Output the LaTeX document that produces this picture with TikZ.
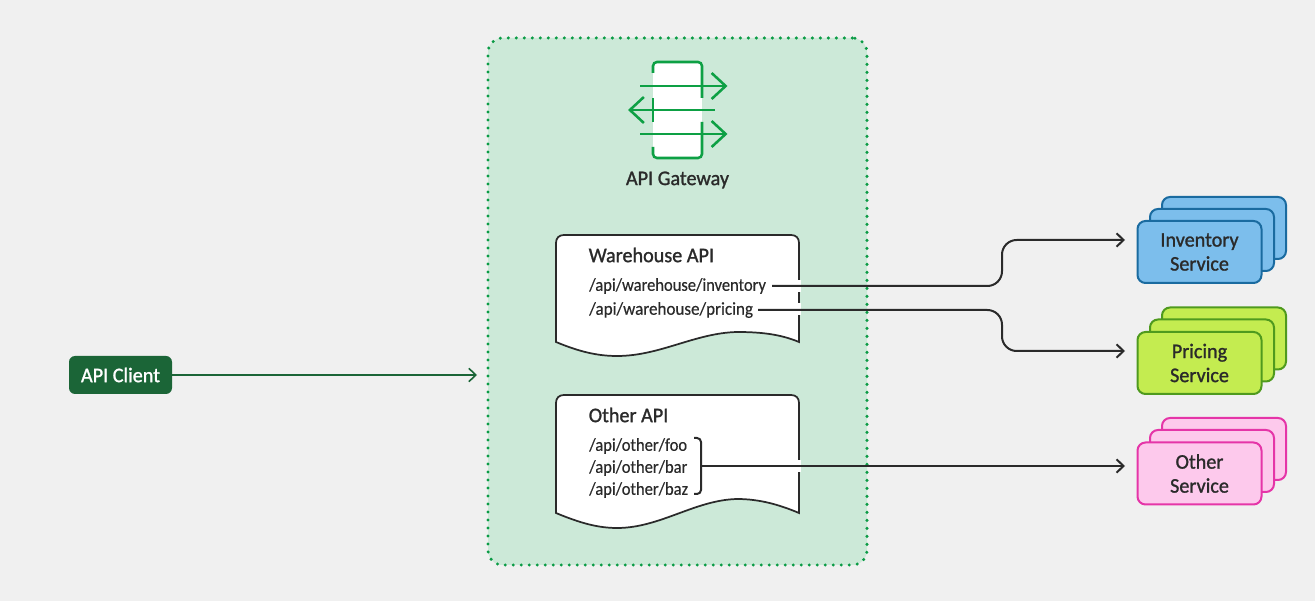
\documentclass[tikz,border=0pt]{standalone}
\usepackage{fontspec}
\setmainfont{Carlito}
\usetikzlibrary{arrows.meta,calc}
\definecolor{bgc}{HTML}{F0F0F0}
\definecolor{gwfill}{HTML}{CCE9D8}
\definecolor{gwline}{HTML}{0A9B45}
\definecolor{icong}{HTML}{0DA044}
\definecolor{clientg}{HTML}{1B6537}
\definecolor{ink}{HTML}{2A2A2A}
\definecolor{bluef}{HTML}{7CBEEC}
\definecolor{bluel}{HTML}{1A6BA0}
\definecolor{limef}{HTML}{C4EC50}
\definecolor{limel}{HTML}{4F9A1E}
\definecolor{pinkf}{HTML}{FDC9EC}
\definecolor{pinkl}{HTML}{E535A8}
\newcommand{\headfont}{\fontsize{15.6pt}{18pt}\selectfont\addfontfeatures{FakeBold=1.2,FakeStretch=0.97}}
\newcommand{\pathfont}{\fontsize{13.6pt}{16pt}\selectfont\addfontfeatures{FakeBold=0.35,FakeStretch=0.91}}
\newcommand{\pricefont}{\fontsize{13.6pt}{16pt}\selectfont\addfontfeatures{FakeBold=0.35,FakeStretch=0.94}}
\tikzset{
  x=.75pt,y=-.75pt,
  svc/.style={draw,line width=1.5pt,rounded corners=6pt,minimum width=93pt,minimum height=46.5pt,inner sep=0pt,text=ink,align=center,font=\headfont},
  flow/.style={draw=ink,line width=1.5pt,rounded corners=11pt,-{Straight Barb[length=5.25pt,width=10pt,line width=1.5pt]}},
  stub/.style={draw=ink,line width=1.5pt},
  doc/.style={draw=ink,line width=1.3pt,fill=white},
  pathtxt/.style={anchor=west,inner sep=0pt,text=ink,font=\pathfont},
  headtxt/.style={anchor=west,inner sep=0pt,text=ink,font=\headfont},
  iconline/.style={draw=icong,line width=1.9pt},
  iconarrow/.style={iconline,-{Straight Barb[length=10.5pt,width=19.5pt,line width=1.9pt]}},
}
\begin{document}
\begin{tikzpicture}
\useasboundingbox (0,0) rectangle (1315,609);
\fill[white] (0,0) rectangle (1315,609);
\fill[bgc] (0,0) rectangle (1315,601);
% gateway
\node (gw) [draw=gwline,fill=gwfill,line width=2.5pt,rounded corners=11pt,dash pattern=on 0pt off 6pt,line cap=round,minimum width=284.25pt,minimum height=395.25pt,inner sep=0pt] at (677.5,301.5) {};
% icon
\fill[white] (653,62) rectangle (702,158);
\draw[iconline,rounded corners=3pt] (653,73) -- (653,62) -- (702,62) -- (702,98);
\draw[iconline,rounded corners=3pt] (702,122) -- (702,158) -- (653,158) -- (653,147);
\draw[iconline] (653,98) -- (653,122);
\coordinate (i1a) at (640,86); \coordinate (i1b) at (727.5,86);
\coordinate (i2a) at (715,110); \coordinate (i2b) at (628,110);
\coordinate (i3a) at (640,134); \coordinate (i3b) at (727.5,134);
\draw[iconarrow] (i1a) -- (i1b);
\draw[iconarrow] (i2a) -- (i2b);
\draw[iconarrow] (i3a) -- (i3b);
\node (gwt) [text=ink,font=\headfont,inner sep=0pt] at (677.5,180) {API Gateway};
% documents
\draw[doc] (556,342) -- (556,243) .. controls (556,238) and (559,235) .. (564,235) -- (791,235) .. controls (796,235) and (799,238) .. (799,243) -- (799,342)
  .. controls (780,334) and (760,332) .. (737,332) .. controls (695,333) and (660,356) .. (617,356) .. controls (598,356) and (580,352) .. (556,342) -- cycle;
\draw[white,line width=2.5pt] (799,280) -- (799,292) (799,303) -- (799,315);
\draw[doc] (556,513) -- (556,403) .. controls (556,398) and (559,395) .. (564,395) -- (791,395) .. controls (796,395) and (799,398) .. (799,403) -- (799,513)
  .. controls (780,505) and (760,499) .. (737,499) .. controls (695,500) and (660,528) .. (617,528) .. controls (598,528) and (580,523) .. (556,513) -- cycle;
\draw[white,line width=2.5pt] (799,460) -- (799,472);
\node (wh) [headtxt] at (588.5,255) {Warehouse API};
\node (inv) [pathtxt] at (589,286) {/api/warehouse/inventory};
\node (pri) [pathtxt,font=\pricefont] at (589,310) {/api/warehouse/pricing};
\node (oa) [headtxt] at (588.5,415) {Other API};
\node (foo) [pathtxt] at (589,446) {/api/other/foo};
\node (bar) [pathtxt] at (589,468) {/api/other/bar};
\node (baz) [pathtxt] at (589,490) {/api/other/baz};
\draw[stub,rounded corners=3pt] (694,438) -- (701,438) -- (701,494) -- (694,494);
% client
\node (client) [fill=clientg,rounded corners=4.5pt,minimum width=77.25pt,minimum height=28.5pt,inner sep=0pt,text=white,font=\headfont] at (120.5,375) {API Client};
\coordinate (gwin) at (477,375);
\draw[draw=clientg,line width=1.2pt,-{Straight Barb[length=5.25pt,width=10pt,line width=1.2pt]}] (client.east) -- (gwin);
% services
\node (inv3) [svc,draw=bluel,fill=bluef] at (1224,228) {};
\node (inv2) [svc,draw=bluel,fill=bluef] at (1212,240) {};
\node (invs) [svc,draw=bluel,fill=bluef] at (1199.5,252) {Inventory\\[0pt]Service};
\node (pri3) [svc,draw=limel,fill=limef] at (1224,338.5) {};
\node (pri2) [svc,draw=limel,fill=limef] at (1212,350.5) {};
\node (pris) [svc,draw=limel,fill=limef] at (1199.5,363) {Pricing\\[0pt]Service};
\node (oth3) [svc,draw=pinkl,fill=pinkf] at (1224,449) {};
\node (oth2) [svc,draw=pinkl,fill=pinkf] at (1212,461) {};
\node (oths) [svc,draw=pinkl,fill=pinkf] at (1199.5,473.5) {Other\\[0pt]Service};
% connectors
\coordinate (s1) at (772,286); \coordinate (t1) at (1125,240);
\coordinate (s2) at (758,310); \coordinate (t2) at (1125,351);
\coordinate (s3) at (701,466); \coordinate (t3) at (1125,466);
\draw[flow] (s1) -- (1002,286) -- (1002,240) -- (t1);
\draw[flow] (s2) -- (1002,310) -- (1002,351) -- (t2);
\draw[flow] (s3) -- (t3);
\end{tikzpicture}
\end{document}
